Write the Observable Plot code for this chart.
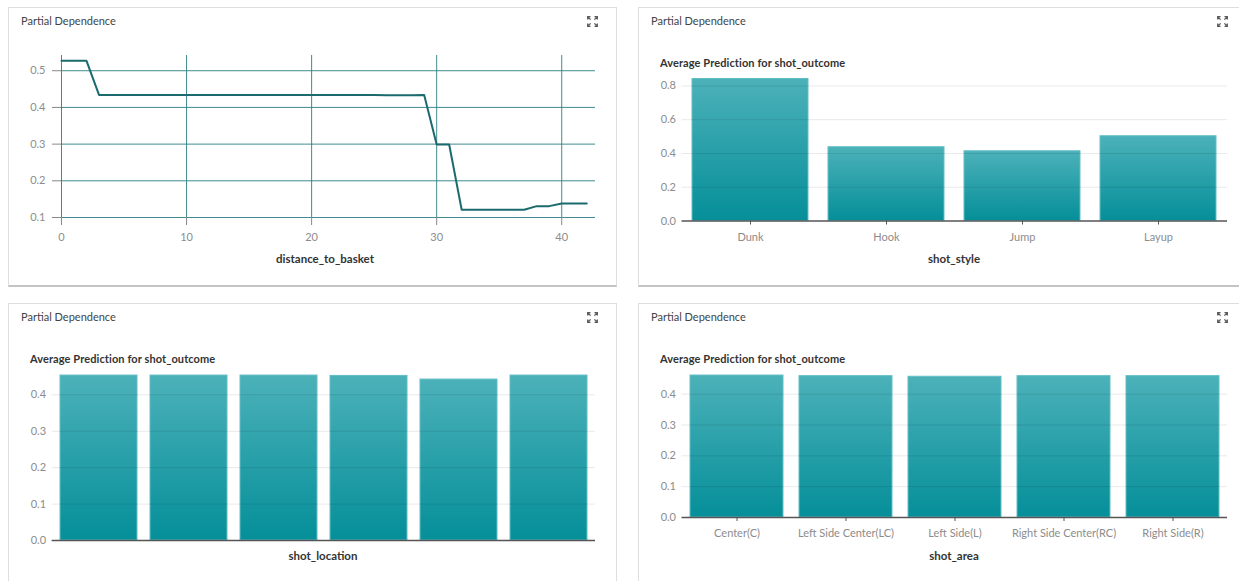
<!DOCTYPE html>
<html><head><meta charset="utf-8">
<script src="https://cdn.jsdelivr.net/npm/d3@7"></script>
<script src="https://cdn.jsdelivr.net/npm/@observablehq/plot@0.6"></script>
<style>
html,body{margin:0;padding:0;background:#fff}
body{font-family:Lato,"Open Sans",sans-serif;width:1239px;height:581px;overflow:hidden;position:relative}
.panel{position:absolute;box-sizing:border-box;border:1px solid #dedede;border-bottom:2px solid #c4c4c4;background:#fff}
.ptitle{position:absolute;font-size:11px;line-height:14px;color:#444;white-space:nowrap}
.sub{position:absolute;font-size:11px;line-height:14px;font-weight:700;color:#333;white-space:nowrap;letter-spacing:0.1px}
.xlab{position:absolute;font-size:11.5px;line-height:14px;font-weight:700;color:#333;white-space:nowrap;transform:translateX(-50%)}
.chart{position:absolute}
.icon{position:absolute;width:11px;height:11px}
</style>
</head><body>
<svg width="0" height="0" style="position:absolute">
  <defs>
    <linearGradient id="barGrad" x1="0" y1="0" x2="0" y2="1">
      <stop offset="0" stop-color="#4cb1b9"/>
      <stop offset="1" stop-color="#058f99"/>
    </linearGradient>
  </defs>
</svg>
<script>
// ---- data ----
const distance = [0, 1, 2, 3, 5, 10, 15, 20, 25, 26, 27, 28, 29, 30, 31, 32, 35, 37, 38, 39, 40, 41, 42];
const distancePD = [0.527, 0.527, 0.527, 0.434, 0.434, 0.434, 0.434, 0.434, 0.434, 0.433, 0.433, 0.433, 0.434, 0.299, 0.299, 0.121, 0.121, 0.121, 0.131, 0.131, 0.138, 0.138, 0.138];

const shotStyles = ["Dunk", "Hook", "Jump", "Layup"];
const shotStylePD = [0.841, 0.437, 0.413, 0.502];

const shotLocations = ["loc1", "loc2", "loc3", "loc4", "loc5", "loc6"];
const shotLocationPD = [0.453, 0.453, 0.453, 0.452, 0.442, 0.453];

const shotAreas = ["Center(C)", "Left Side Center(LC)", "Left Side(L)", "Right Side Center(RC)", "Right Side(R)"];
const shotAreaPD = [0.4605, 0.4585, 0.4565, 0.4585, 0.4585];

const lineTicksX = [0, 10, 20, 30, 40];
const lineTicksY = [0.1, 0.2, 0.3, 0.4, 0.5];
const styleTicksY = [0, 0.2, 0.4, 0.6, 0.8];
const smallTicksY = [0, 0.1, 0.2, 0.3, 0.4];

// ---- layout helpers ----
function el(cls, css, text) {
  const d = document.createElement("div");
  d.className = cls;
  Object.assign(d.style, css);
  if (text != null) d.textContent = text;
  document.body.appendChild(d);
  return d;
}
function icon(x, y) {
  const ns = "http://www.w3.org/2000/svg";
  const s = document.createElementNS(ns, "svg");
  s.setAttribute("class", "icon");
  s.setAttribute("viewBox", "0 0 11 11");
  s.style.left = x + "px"; s.style.top = y + "px";
  s.innerHTML = '<g fill="none" stroke="#5a5a5a" stroke-width="1.3">' +
    '<path d="M0.7 3.5V0.7H3.5M0.7 0.7L3.6 3.6"/>' +
    '<path d="M7.5 0.7H10.3V3.5M10.3 0.7L7.4 3.6"/>' +
    '<path d="M0.7 7.5V10.3H3.5M0.7 10.3L3.6 7.4"/>' +
    '<path d="M10.3 7.5V10.3H7.5M10.3 10.3L7.4 7.4"/></g>';
  document.body.appendChild(s);
}
function place(svg, left, top) {
  svg.classList.add("chart");
  svg.style.left = left + "px";
  svg.style.top = top + "px";
  document.body.appendChild(svg);
}

// panels
const panels = [
  {l: 8, t: 7, w: 609, h: 280},
  {l: 638, t: 7, w: 610, h: 280},
  {l: 8, t: 303, w: 609, h: 290},
  {l: 638, t: 303, w: 610, h: 290}
];
panels.forEach(p => {
  el("panel", {left: p.l + "px", top: p.t + "px", width: p.w + "px", height: p.h + "px"});
  el("ptitle", {left: (p.l + 13) + "px", top: (p.t + 7) + "px"}, "Partial Dependence");
  icon(p.l + 579, p.t + 9);
});

const baseStyle = {fontFamily: "Lato, 'Open Sans', sans-serif", fontSize: "11px", color: "#8c8c8c", background: "transparent", overflow: "visible"};
const teal = "#2b7e83";
const labelGray = "#8c8c8c";

// ---- chart 1: line ----
const lineData = distance.map((d, i) => ({x: d, y: distancePD[i]}));
const c1 = Plot.plot({
  width: 620, height: 290,
  marginLeft: 61, marginRight: 25, marginTop: 55, marginBottom: 73,
  style: baseStyle,
  x: {domain: [0, 42.7]},
  y: {domain: [0.1, 0.5415]},
  marks: [
    Plot.gridX({ticks: lineTicksX, stroke: teal, strokeOpacity: 0.9, strokeWidth: 1}),
    Plot.gridY({ticks: lineTicksY, stroke: teal, strokeOpacity: 0.9, strokeWidth: 1}),
    Plot.axisX({ticks: lineTicksX, tickSize: 8, tickPadding: 8, label: null, stroke: "#888", fill: labelGray}),
    Plot.axisY({ticks: lineTicksY, tickSize: 9, tickPadding: 7, tickFormat: ".1f", label: null, stroke: "#888", fill: labelGray}),
    Plot.line(lineData, {x: "x", y: "y", stroke: "#1b6a6e", strokeWidth: 2})
  ]
});
place(c1, 0, 0);
el("xlab", {left: "325px", top: "252px"}, "distance_to_basket");

// bar chart tick helpers: ticks (dark) and labels (gray) drawn separately
function barAxisX() {
  return [
    Plot.axisX({tickSize: 4, tickFormat: () => "", label: null, stroke: "#555"}),
    Plot.axisX({tickSize: 0, tickPadding: 12, label: null, fill: labelGray})
  ];
}

// ---- chart 2: shot_style ----
const styleData = shotStyles.map((c, i) => ({c, v: shotStylePD[i]}));
const c2 = Plot.plot({
  width: 619, height: 290,
  marginLeft: 61.5, marginRight: 12, marginTop: 77, marginBottom: 69.5,
  style: baseStyle,
  x: {domain: shotStyles, paddingInner: 0.145, paddingOuter: 0.0725},
  y: {domain: [0, 0.85]},
  marks: [
    Plot.barY(styleData, {x: "c", y: "v", fill: "url(#barGrad)", stroke: "#62bec5", strokeWidth: 1}),
    Plot.gridY({ticks: styleTicksY.slice(1), stroke: "#000", strokeOpacity: 0.09}),
    ...barAxisX(),
    Plot.axisY({ticks: styleTicksY, tickSize: 0, tickPadding: 6, tickFormat: ".1f", label: null, fill: labelGray}),
    Plot.ruleY([0], {stroke: "#555", strokeWidth: 1.5})
  ]
});
place(c2, 620, 0);
el("sub", {left: "660px", top: "56px"}, "Average Prediction for shot_outcome");
el("xlab", {left: "954px", top: "252px"}, "shot_style");

// ---- chart 3: shot_location ----
const locData = shotLocations.map((c, i) => ({c, v: shotLocationPD[i]}));
const c3 = Plot.plot({
  width: 620, height: 286,
  marginLeft: 51.6, marginRight: 25, marginTop: 77.5, marginBottom: 41,
  style: baseStyle,
  x: {domain: shotLocations, paddingInner: 0.145, paddingOuter: 0.0725, axis: null},
  y: {domain: [0, 0.46]},
  marks: [
    Plot.barY(locData, {x: "c", y: "v", fill: "url(#barGrad)", stroke: "#62bec5", strokeWidth: 1}),
    Plot.gridY({ticks: smallTicksY.slice(1), stroke: "#000", strokeOpacity: 0.09}),
    Plot.axisY({ticks: smallTicksY, tickSize: 0, tickPadding: 6, tickFormat: ".1f", label: null, fill: labelGray}),
    Plot.ruleY([0], {stroke: "#555", strokeWidth: 1.5})
  ]
});
place(c3, 0, 295);
el("sub", {left: "30px", top: "352px"}, "Average Prediction for shot_outcome");
el("xlab", {left: "323px", top: "549px"}, "shot_location");

// ---- chart 4: shot_area ----
const areaData = shotAreas.map((c, i) => ({c, v: shotAreaPD[i]}));
const c4 = Plot.plot({
  width: 619, height: 286,
  marginLeft: 61.5, marginRight: 12, marginTop: 77.1, marginBottom: 64,
  style: baseStyle,
  x: {domain: shotAreas, paddingInner: 0.145, paddingOuter: 0.0725},
  y: {domain: [0, 0.47]},
  marks: [
    Plot.barY(areaData, {x: "c", y: "v", fill: "url(#barGrad)", stroke: "#62bec5", strokeWidth: 1}),
    Plot.gridY({ticks: smallTicksY.slice(1), stroke: "#000", strokeOpacity: 0.09}),
    ...barAxisX(),
    Plot.axisY({ticks: smallTicksY, tickSize: 0, tickPadding: 6, tickFormat: ".1f", label: null, fill: labelGray}),
    Plot.ruleY([0], {stroke: "#555", strokeWidth: 1.5})
  ]
});
place(c4, 620, 295);
el("sub", {left: "660px", top: "352px"}, "Average Prediction for shot_outcome");
el("xlab", {left: "954px", top: "549px"}, "shot_area");
</script>
</body></html>
